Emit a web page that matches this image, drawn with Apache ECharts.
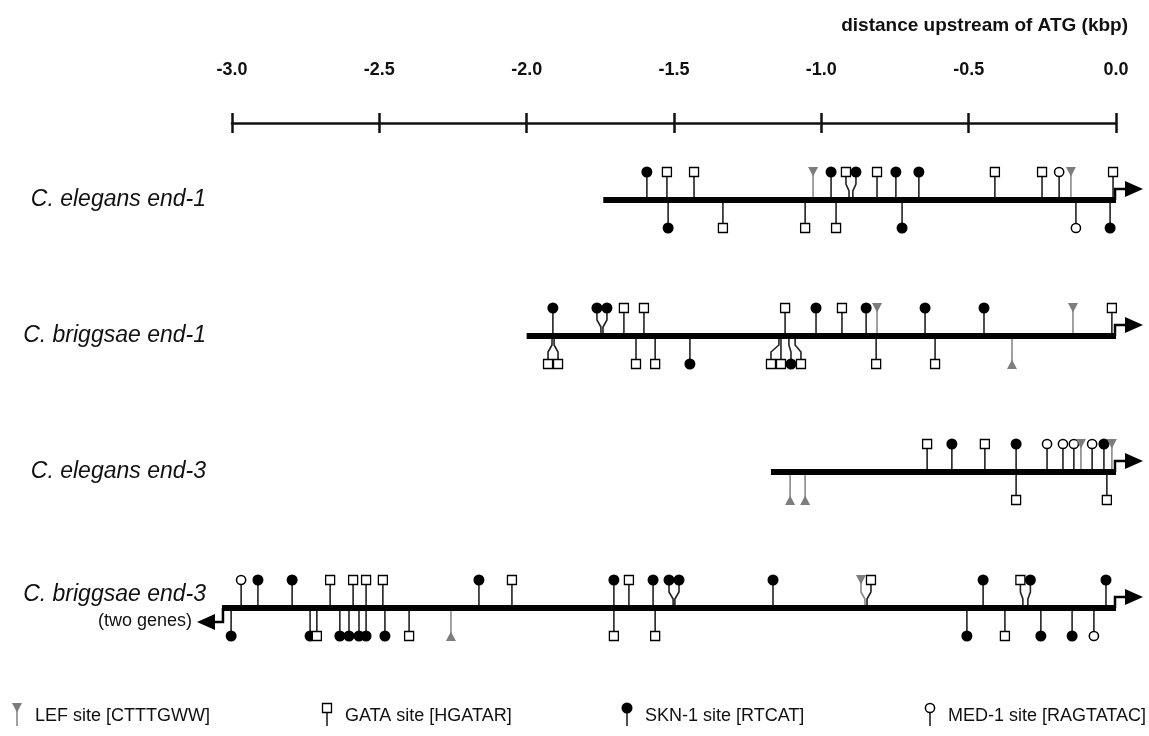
<!DOCTYPE html>
<html>
<head>
<meta charset="utf-8">
<script src="https://cdn.jsdelivr.net/npm/echarts@6/dist/echarts.min.js"></script>
<style>
  html, body { margin: 0; padding: 0; background: #fff; }
  #chart { width: 1149px; height: 736px; }
</style>
</head>
<body>
<div id="chart"></div>
<script>
// genes, drawn top to bottom
const genes = ['C. elegans end-1', 'C. briggsae end-1', 'C. elegans end-3', 'C. briggsae end-3'];
const geneStart = [-1.74, -2.0, -1.171, -3.034];
const geneEnd = [0, 0, 0, 0];
const twoGenes = [false, false, false, true];
const xTicks = [-3.0, -2.5, -2.0, -1.5, -1.0, -0.5, 0.0];
const siteTypes = ['LEF', 'GATA', 'SKN', 'MED'];
const legendLabels = ['LEF site [CTTTGWW]', 'GATA site [HGATAR]', 'SKN-1 site [RTCAT]', 'MED-1 site [RAGTATAC]'];

// sites: [position (kbp), type]
const ceEnd1Top = [[-1.592, 'SKN'], [-1.524, 'GATA'], [-1.432, 'GATA'], [-1.028, 'LEF'], [-0.967, 'SKN'],
  [-0.906, 'GATA'], [-0.893, 'SKN'], [-0.811, 'GATA'], [-0.747, 'SKN'], [-0.669, 'SKN'], [-0.411, 'GATA'],
  [-0.251, 'GATA'], [-0.193, 'MED'], [-0.153, 'LEF'], [-0.010, 'GATA']];
const ceEnd1Bottom = [[-1.520, 'SKN'], [-1.334, 'GATA'], [-1.055, 'GATA'], [-0.950, 'GATA'], [-0.726, 'SKN'],
  [-0.136, 'MED'], [-0.020, 'SKN']];

const cbEnd1Top = [[-1.911, 'SKN'], [-1.748, 'SKN'], [-1.741, 'SKN'], [-1.670, 'GATA'], [-1.602, 'GATA'],
  [-1.123, 'GATA'], [-1.018, 'SKN'], [-0.930, 'GATA'], [-0.848, 'SKN'], [-0.811, 'LEF'], [-0.648, 'SKN'],
  [-0.448, 'SKN'], [-0.146, 'LEF'], [-0.014, 'GATA']];
const cbEnd1Bottom = [[-1.914, 'GATA'], [-1.907, 'GATA'], [-1.629, 'GATA'], [-1.564, 'GATA'], [-1.446, 'SKN'],
  [-1.144, 'GATA'], [-1.137, 'GATA'], [-1.110, 'SKN'], [-1.089, 'GATA'], [-0.814, 'GATA'], [-0.614, 'GATA'],
  [-0.353, 'LEF']];

const ceEnd3Top = [[-0.641, 'GATA'], [-0.557, 'SKN'], [-0.445, 'GATA'], [-0.339, 'SKN'], [-0.234, 'MED'],
  [-0.180, 'MED'], [-0.143, 'MED'], [-0.119, 'LEF'], [-0.081, 'MED'], [-0.041, 'SKN'], [-0.014, 'LEF']];
const ceEnd3Bottom = [[-1.106, 'LEF'], [-1.055, 'LEF'], [-0.339, 'GATA'], [-0.031, 'GATA']];

const cbEnd3Top = [[-2.969, 'MED'], [-2.912, 'SKN'], [-2.796, 'SKN'], [-2.667, 'GATA'], [-2.589, 'GATA'],
  [-2.545, 'GATA'], [-2.488, 'GATA'], [-2.162, 'SKN'], [-2.050, 'GATA'], [-1.704, 'SKN'], [-1.653, 'GATA'],
  [-1.571, 'SKN'], [-1.503, 'SKN'], [-1.497, 'SKN'], [-1.164, 'SKN'], [-0.852, 'LEF'], [-0.845, 'GATA'],
  [-0.451, 'SKN'], [-0.316, 'GATA'], [-0.299, 'SKN'], [-0.034, 'SKN']];
const cbEnd3Bottom = [[-3.003, 'SKN'], [-2.735, 'SKN'], [-2.712, 'GATA'], [-2.634, 'SKN'], [-2.603, 'SKN'],
  [-2.569, 'SKN'], [-2.545, 'SKN'], [-2.481, 'SKN'], [-2.399, 'GATA'], [-2.257, 'LEF'], [-1.704, 'GATA'],
  [-1.564, 'GATA'], [-0.506, 'SKN'], [-0.377, 'GATA'], [-0.255, 'SKN'], [-0.149, 'SKN'], [-0.075, 'MED']];

const siteSets = [
  [ceEnd1Top, ceEnd1Bottom],
  [cbEnd1Top, cbEnd1Bottom],
  [ceEnd3Top, ceEnd3Bottom],
  [cbEnd3Top, cbEnd3Bottom]
];

const GRID = { left: 232, right: 33, top: 200, bottom: 128 };
const kpp = 3 / (1149 - GRID.left - GRID.right); // kbp per pixel
const MARK_GAP = 10 * kpp;
const CLASH = 6 * kpp;

// push overlapping markers apart, keeping each cluster centred on its sites
function spread(list) {
  const sites = list.map((d) => ({ pos: d[0], type: d[1] })).sort((a, b) => a.pos - b.pos);
  function place(g) {
    const mean = g.items.reduce((s, d) => s + d.pos, 0) / g.items.length;
    const w = (g.items.length - 1) * MARK_GAP;
    g.items.forEach((d, i) => { d.mark = mean - w / 2 + i * MARK_GAP; });
  }
  const groups = [];
  sites.forEach((site) => {
    groups.push({ items: [site] });
    while (groups.length > 1) {
      const g = groups[groups.length - 1];
      const p = groups[groups.length - 2];
      place(g); place(p);
      if (g.items[0].mark - p.items[p.items.length - 1].mark < CLASH) {
        p.items = p.items.concat(g.items);
        groups.pop();
      } else break;
    }
  });
  groups.forEach(place);
  return sites;
}

const siteData = [];
siteSets.forEach(([top, bottom], row) => {
  spread(top).forEach((s) => siteData.push([s.pos, row, s.mark, siteTypes.indexOf(s.type), 1]));
  spread(bottom).forEach((s) => siteData.push([s.pos, row, s.mark, siteTypes.indexOf(s.type), -1]));
});

const geneData = genes.map((g, i) => [geneStart[i], i, geneEnd[i], twoGenes[i] ? 1 : 0]);

const LEF_GREY = '#7d7d7d';
const FONT = 'Liberation Sans, Arial, sans-serif';

// one site: stem from y0 then the marker; side 1 = above, -1 = below
function drawSite(bx, mx, y0, side, type, len) {
  const my = y0 - side * len;
  const lef = type === 'LEF';
  let pts;
  if (Math.abs(mx - bx) < 0.5) {
    pts = [[bx, y0], [bx, my]];
  } else {
    pts = [[bx, y0], [bx, y0 - side * 6], [mx, y0 - side * 13], [mx, my]];
  }
  const children = [{
    type: 'polyline',
    shape: { points: pts },
    style: { stroke: lef ? '#8a8a8a' : '#222', lineWidth: 1.6, fill: null }
  }];
  if (type === 'SKN') {
    children.push({ type: 'circle', shape: { cx: mx, cy: my, r: 5.5 }, style: { fill: '#000' } });
  } else if (type === 'MED') {
    children.push({ type: 'circle', shape: { cx: mx, cy: my, r: 4.6 }, style: { fill: '#fff', stroke: '#000', lineWidth: 1.5 } });
  } else if (type === 'GATA') {
    children.push({ type: 'rect', shape: { x: mx - 4.5, y: my - 4.5, width: 9, height: 9 }, style: { fill: '#fff', stroke: '#000', lineWidth: 1.3 } });
  } else {
    children.push({
      type: 'polygon',
      shape: { points: [[mx - 5, my - side * 5], [mx + 5, my - side * 5], [mx, my + side * 4.5]] },
      style: { fill: LEF_GREY }
    });
  }
  return children;
}

function renderGene(params, api) {
  const row = api.value(1);
  const p0 = api.coord([api.value(0), row]);
  const p1 = api.coord([api.value(2), row]);
  const y = p0[1];
  const children = [
    { type: 'line', shape: { x1: p0[0], y1: y, x2: p1[0], y2: y }, style: { stroke: '#000', lineWidth: 6 } },
    { type: 'polyline', shape: { points: [[p1[0] - 1, y], [p1[0] - 1, y - 11], [p1[0] + 10, y - 11]] }, style: { stroke: '#000', lineWidth: 2.5, fill: null } },
    { type: 'polygon', shape: { points: [[p1[0] + 9, y - 19], [p1[0] + 9, y - 3], [p1[0] + 27, y - 11]] }, style: { fill: '#000' } }
  ];
  if (api.value(3)) {
    children.push(
      { type: 'polyline', shape: { points: [[p0[0] + 1, y], [p0[0] + 1, y + 14], [p0[0] - 8, y + 14]] }, style: { stroke: '#000', lineWidth: 2.5, fill: null } },
      { type: 'polygon', shape: { points: [[p0[0] - 7, y + 6], [p0[0] - 7, y + 22], [p0[0] - 25, y + 14]] }, style: { fill: '#000' } }
    );
  }
  return { type: 'group', children: children };
}

function renderSite(params, api) {
  const row = api.value(1);
  const side = api.value(4);
  const base = api.coord([api.value(0), row]);
  const mark = api.coord([api.value(2), row]);
  const y0 = base[1] - side * 3;
  return { type: 'group', children: drawSite(base[0], mark[0], y0, side, siteTypes[api.value(3)], 25) };
}

// legend drawn as graphic items
const legendX = [17, 327, 627, 930];
const legendGraphics = [];
siteTypes.forEach((t, i) => {
  legendGraphics.push({ type: 'group', children: drawSite(legendX[i], legendX[i], 726, 1, t, 18) });
  legendGraphics.push({
    type: 'text',
    x: legendX[i] + 18,
    y: 716,
    style: { text: legendLabels[i], fill: '#111', font: '18px "Liberation Sans", Arial, sans-serif', verticalAlign: 'middle' }
  });
});

const chart = echarts.init(document.getElementById('chart'));

chart.setOption({
  animation: false,
  backgroundColor: '#fff',
  title: {
    text: 'distance upstream of ATG (kbp)',
    right: 16,
    top: 11,
    textStyle: { fontFamily: FONT, fontWeight: 'bold', fontSize: 19, color: '#111' }
  },
  grid: GRID,
  xAxis: [
    {
      type: 'value', min: -3, max: 0, interval: 0.5, position: 'top', offset: 77,
      splitLine: { show: false },
      axisLine: { show: true, onZero: false, lineStyle: { color: '#111', width: 2.5 } },
      axisTick: { show: true, length: 10, lineStyle: { color: '#111', width: 2.5 } },
      axisLabel: {
        margin: 44, color: '#111', fontWeight: 'bold', fontSize: 18, fontFamily: FONT,
        formatter: (v) => xTicks.includes(v) ? v.toFixed(1) : ''
      }
    },
    {
      type: 'value', min: -3, max: 0, interval: 0.5, position: 'top', offset: 77,
      splitLine: { show: false },
      axisLine: { show: false },
      axisTick: { show: true, inside: true, length: 10, lineStyle: { color: '#111', width: 2.5 } },
      axisLabel: { show: false }
    }
  ],
  yAxis: {
    type: 'category', data: genes, inverse: true, boundaryGap: false,
    axisLine: { show: false }, axisTick: { show: false }, splitLine: { show: false },
    axisLabel: {
      interval: 0, margin: 26, align: 'right',
      formatter: (v, i) => twoGenes[i] ? '{i|' + v + '}\n{n|(two genes)}' : '{i|' + v + '}',
      rich: {
        i: { fontStyle: 'italic', fontSize: 23, color: '#111', fontFamily: FONT, lineHeight: 27, align: 'right' },
        n: { fontSize: 18, color: '#111', fontFamily: FONT, lineHeight: 27, align: 'right', padding: [0, 14, 0, 0] }
      }
    }
  },
  graphic: legendGraphics,
  series: [
    { type: 'custom', name: 'genes', clip: false, renderItem: renderGene, data: geneData, z: 2 },
    { type: 'custom', name: 'sites', clip: false, renderItem: renderSite, data: siteData, z: 3 }
  ]
});
</script>
</body>
</html>
